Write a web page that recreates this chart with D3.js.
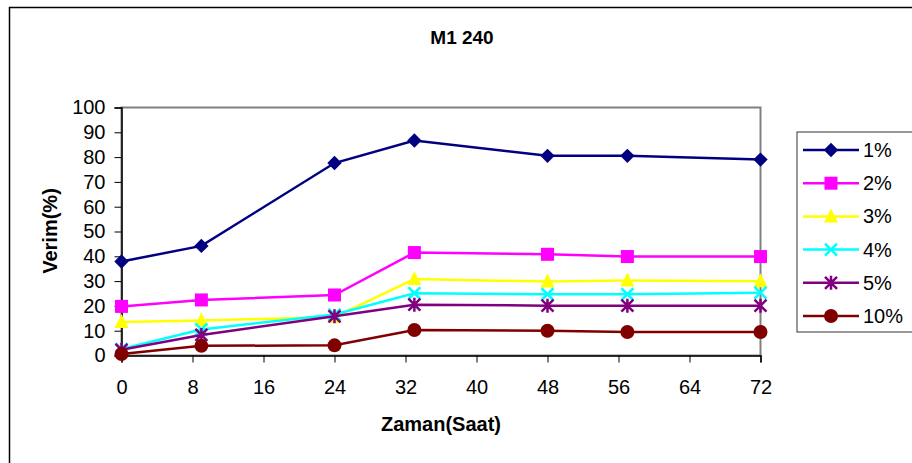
<!DOCTYPE html>
<html>
<head>
<meta charset="utf-8">
<script src="https://cdn.jsdelivr.net/npm/d3@7"></script>
<style>
  html, body { margin: 0; padding: 0; background: #fff; }
  svg { display: block; }
  text { font-family: "Liberation Sans", Arial, sans-serif; fill: #000; }
</style>
</head>
<body>
<svg id="chart" width="912" height="463"></svg>
<script>
// Reaction time (hours) at which yield was measured
const hours = [0, 9, 24, 33, 48, 57, 72];

// Yield (%) for each catalyst loading
const seriesNames = ["1%", "2%", "3%", "4%", "5%", "10%"];
const yield1 = [37.9, 44.2, 77.6, 86.7, 80.5, 80.5, 79.0];
const yield2 = [19.8, 22.4, 24.4, 41.5, 40.8, 39.9, 39.9];
const yield3 = [13.5, 14.1, 15.5, 30.8, 29.8, 30.2, 29.9];
const yield4 = [2.6, 10.5, 16.5, 25.1, 24.7, 24.7, 25.3];
const yield5 = [2.3, 8.3, 15.8, 20.5, 20.1, 20.1, 20.1];
const yield10 = [0.6, 3.9, 4.1, 10.3, 10.0, 9.5, 9.5];

const xTicks = [0, 8, 16, 24, 32, 40, 48, 56, 64, 72];
const yTicks = [0, 10, 20, 30, 40, 50, 60, 70, 80, 90, 100];

const colors = ["#000080", "#FF00FF", "#FFFF00", "#00FFFF", "#800080", "#800000"];
const markers = ["diamond", "square", "triangle", "x", "star", "circle"];
const allYields = [yield1, yield2, yield3, yield4, yield5, yield10];

const svg = d3.select("#chart");

// outer chart frame
svg.append("rect")
  .attr("x", 9.5).attr("y", 7.5).attr("width", 1000).attr("height", 1000)
  .attr("fill", "none").attr("stroke", "#000").attr("stroke-width", 1.5);

const plot = { left: 121.5, right: 760.5, top: 107.5, bottom: 355.5 };
const x = d3.scaleLinear().domain([0, 72]).range([plot.left, plot.right]);
const y = d3.scaleLinear().domain([0, 100]).range([plot.bottom, plot.top]);

// plot area border
svg.append("rect")
  .attr("x", plot.left).attr("y", plot.top)
  .attr("width", plot.right - plot.left).attr("height", plot.bottom - plot.top)
  .attr("fill", "none").attr("stroke", "#808080").attr("stroke-width", 2);

// axes
const xAxis = svg.append("g")
  .attr("transform", `translate(0,${plot.bottom})`)
  .call(d3.axisBottom(x).tickValues(xTicks).tickSize(7).tickPadding(17.5).tickFormat(d3.format("d")));
const yAxis = svg.append("g")
  .attr("transform", `translate(${plot.left},0)`)
  .call(d3.axisLeft(y).tickValues(yTicks).tickSize(7).tickPadding(9).tickFormat(d3.format("d")));
[xAxis, yAxis].forEach(g => {
  g.select(".domain").attr("stroke", "#000").attr("stroke-width", 1.5);
  g.selectAll(".tick line").attr("stroke", "#000").attr("stroke-width", 1);
  g.selectAll(".tick text")
    .attr("font-family", "Liberation Sans, Arial, sans-serif")
    .attr("font-size", 20).attr("fill", "#000");
});

// titles
svg.append("text").attr("x", 462).attr("y", 44)
  .attr("text-anchor", "middle").attr("font-weight", "bold").attr("font-size", 19)
  .text("M1 240");
svg.append("text").attr("x", 441).attr("y", 431)
  .attr("text-anchor", "middle").attr("font-weight", "bold").attr("font-size", 20)
  .text("Zaman(Saat)");
svg.append("text")
  .attr("transform", "translate(57,231) rotate(-90)")
  .attr("text-anchor", "middle").attr("font-weight", "bold").attr("font-size", 20)
  .text("Verim(%)");

// marker drawing
function drawMarker(g, type, color, cx, cy) {
  if (type === "diamond") {
    const s = 7.2;
    g.append("path").attr("d", `M${cx},${cy - s}L${cx + s},${cy}L${cx},${cy + s}L${cx - s},${cy}Z`)
      .attr("fill", color);
  } else if (type === "square") {
    g.append("rect").attr("x", cx - 6.5).attr("y", cy - 6.5).attr("width", 13).attr("height", 13)
      .attr("fill", color);
  } else if (type === "triangle") {
    g.append("path").attr("d", `M${cx},${cy - 8}L${cx + 7},${cy + 6}L${cx - 7},${cy + 6}Z`)
      .attr("fill", color);
  } else if (type === "x") {
    g.append("path").attr("d", `M${cx - 6},${cy - 6}L${cx + 6},${cy + 6}M${cx + 6},${cy - 6}L${cx - 6},${cy + 6}`)
      .attr("stroke", color).attr("stroke-width", 2.5).attr("fill", "none");
  } else if (type === "star") {
    g.append("path").attr("d", `M${cx - 6},${cy - 6}L${cx + 6},${cy + 6}M${cx + 6},${cy - 6}L${cx - 6},${cy + 6}M${cx},${cy - 7}L${cx},${cy + 7}`)
      .attr("stroke", color).attr("stroke-width", 2.5).attr("fill", "none");
  } else if (type === "circle") {
    g.append("circle").attr("cx", cx).attr("cy", cy).attr("r", 7).attr("fill", color);
  }
}

const line = d3.line().x(d => x(d[0])).y(d => y(d[1]));

allYields.forEach((vals, i) => {
  const g = svg.append("g");
  const pts = hours.map((h, j) => [h, vals[j]]);
  g.append("path").attr("d", line(pts))
    .attr("fill", "none").attr("stroke", colors[i]).attr("stroke-width", 2.5);
  pts.forEach(p => drawMarker(g, markers[i], colors[i], x(p[0]), y(p[1])));
});

// legend
const legend = svg.append("g");
legend.append("rect").attr("x", 797).attr("y", 132).attr("width", 200).attr("height", 200)
  .attr("fill", "#fff").attr("stroke", "#333").attr("stroke-width", 1);
seriesNames.forEach((name, i) => {
  const ly = 150 + i * 33.2;
  legend.append("line").attr("x1", 803).attr("x2", 859).attr("y1", ly).attr("y2", ly)
    .attr("stroke", colors[i]).attr("stroke-width", 2.5);
  drawMarker(legend, markers[i], colors[i], 831, ly);
  legend.append("text").attr("x", 863).attr("y", ly + 7)
    .attr("font-size", 20).text(name);
});
</script>
</body>
</html>
